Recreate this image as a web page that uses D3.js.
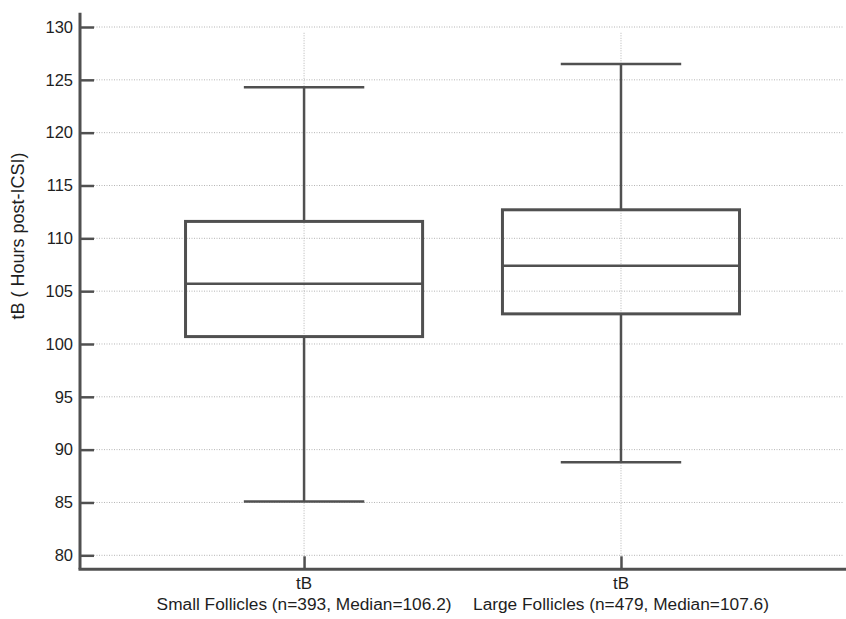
<!DOCTYPE html>
<html>
<head>
<meta charset="utf-8">
<script src="https://cdn.jsdelivr.net/npm/d3@7"></script>
<style>
  body { margin: 0; background: #fff; }
  text { font-family: "Liberation Sans", Arial, sans-serif; fill: #1e1e1e; }
</style>
</head>
<body>
<div id="chart"></div>
<script>
// data
const groups = ["Small Follicles (n=393, Median=106.2)", "Large Follicles (n=479, Median=107.6)"];
const tickNames = ["tB", "tB"];
const lowWhisker = [85.1, 88.8];
const q1 = [100.7, 102.85];
const median = [105.7, 107.4];
const q3 = [111.6, 112.7];
const highWhisker = [124.3, 126.5];
const yTicks = [80, 85, 90, 95, 100, 105, 110, 115, 120, 125, 130];
const yLabel = "tB ( Hours post-ICSI)";

const width = 846, height = 619;
const ink = '#505050';

const svg = d3.select('#chart').append('svg')
  .attr('width', width)
  .attr('height', height);

const x = d3.scaleLinear().domain([0.293, 2.71]).range([80, 846]);
const y = d3.scaleLinear().domain([80, 130]).range([555.3, 27]);
const yTop = y.invert(12.7), yBottom = y.invert(569.3);

const boxHalf = 0.374, capHalf = 0.19;

// grid
svg.append('g').selectAll('line')
  .data(yTicks)
  .enter().append('line')
  .attr('x1', 94).attr('x2', 843)
  .attr('y1', d => y(d)).attr('y2', d => y(d))
  .style('stroke', '#b5b5b5')
  .style('stroke-width', 1)
  .style('stroke-dasharray', '1,1.5');

svg.append('g').selectAll('line')
  .data(groups)
  .enter().append('line')
  .attr('x1', (d, i) => x(i + 1)).attr('x2', (d, i) => x(i + 1))
  .attr('y1', y(129.45)).attr('y2', y(79.93))
  .style('stroke', '#b5b5b5')
  .style('stroke-width', 1)
  .style('stroke-dasharray', '1,1.5');

// axes
const yAxis = d3.axisRight(y)
  .tickValues(yTicks)
  .tickSize(14)
  .tickFormat('');
const yAxisG = svg.append('g')
  .attr('transform', 'translate(' + x(0.293) + ',0)')
  .call(yAxis);
yAxisG.select('.domain').remove();
yAxisG.selectAll('line').style('stroke', ink).style('stroke-width', 2.5);

svg.append('g').selectAll('text')
  .data(yTicks)
  .enter().append('text')
  .attr('x', 73)
  .attr('y', d => y(d))
  .attr('dy', '0.35em')
  .attr('text-anchor', 'end')
  .style('font-size', '16.5px')
  .text(d => d);

const xAxisG = svg.append('g')
  .attr('transform', 'translate(0,' + y(yBottom) + ')')
  .call(d3.axisTop(x).tickValues([1, 2]).tickSize(13).tickFormat(''));
xAxisG.select('.domain').remove();
xAxisG.selectAll('line').style('stroke', ink).style('stroke-width', 2.5);

svg.append('line')
  .attr('x1', x(0.293)).attr('x2', x(0.293))
  .attr('y1', y(yTop)).attr('y2', y(yBottom))
  .style('stroke', ink).style('stroke-width', 3);
svg.append('line')
  .attr('x1', x(0.293) - 1.5).attr('x2', x(2.71))
  .attr('y1', y(yBottom)).attr('y2', y(yBottom))
  .style('stroke', ink).style('stroke-width', 3);

svg.append('g').selectAll('text')
  .data(tickNames)
  .enter().append('text')
  .attr('x', (d, i) => x(i + 1))
  .attr('y', 589)
  .attr('text-anchor', 'middle')
  .style('font-size', '17px')
  .text(d => d);

svg.append('g').selectAll('text')
  .data(groups)
  .enter().append('text')
  .attr('x', (d, i) => x(i + 1))
  .attr('y', 610)
  .attr('text-anchor', 'middle')
  .style('font-size', '17.3px')
  .text(d => d);

svg.append('text')
  .attr('transform', 'translate(24,' + 236 + ') rotate(-90)')
  .attr('text-anchor', 'middle')
  .style('font-size', '18px')
  .text(yLabel);

// boxes
const boxes = svg.append('g').selectAll('g')
  .data(groups)
  .enter().append('g');

boxes.append('line')
  .attr('x1', (d, i) => x(i + 1)).attr('x2', (d, i) => x(i + 1))
  .attr('y1', (d, i) => y(highWhisker[i])).attr('y2', (d, i) => y(q3[i]))
  .style('stroke', ink).style('stroke-width', 2.5);
boxes.append('line')
  .attr('x1', (d, i) => x(i + 1)).attr('x2', (d, i) => x(i + 1))
  .attr('y1', (d, i) => y(q1[i])).attr('y2', (d, i) => y(lowWhisker[i]))
  .style('stroke', ink).style('stroke-width', 2.5);

[highWhisker, lowWhisker].forEach(arr => {
  boxes.append('line')
    .attr('x1', (d, i) => x(i + 1 - capHalf)).attr('x2', (d, i) => x(i + 1 + capHalf))
    .attr('y1', (d, i) => y(arr[i])).attr('y2', (d, i) => y(arr[i]))
    .style('stroke', ink).style('stroke-width', 2.5);
});

boxes.append('rect')
  .attr('x', (d, i) => x(i + 1 - boxHalf))
  .attr('width', (d, i) => x(i + 1 + boxHalf) - x(i + 1 - boxHalf))
  .attr('y', (d, i) => y(q3[i]))
  .attr('height', (d, i) => y(q1[i]) - y(q3[i]))
  .style('fill', 'none')
  .style('stroke', ink).style('stroke-width', 3);

boxes.append('line')
  .attr('x1', (d, i) => x(i + 1 - boxHalf)).attr('x2', (d, i) => x(i + 1 + boxHalf))
  .attr('y1', (d, i) => y(median[i])).attr('y2', (d, i) => y(median[i]))
  .style('stroke', ink).style('stroke-width', 2.5);
</script>
</body>
</html>
